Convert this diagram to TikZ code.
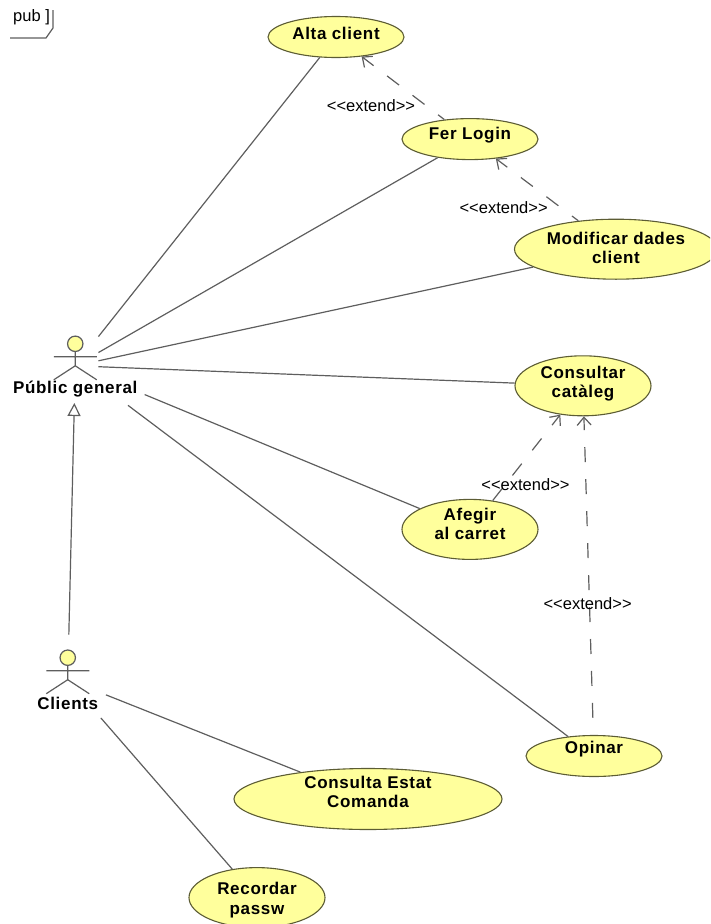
\documentclass[tikz,border=0pt]{standalone}
\usepackage{fontspec}
\setmainfont{Liberation Sans}
\newfontfamily\casefont[LetterSpace=4]{Liberation Sans Bold}
\usetikzlibrary{shapes.geometric,positioning,arrows.meta}

\definecolor{casefill}{HTML}{FFFF9C}
\definecolor{caseline}{HTML}{5C5C34}
\definecolor{umlline}{HTML}{5E5E5E}

\tikzset{
	usecase/.style={draw=caseline,
		fill=casefill,
		ellipse,
		line width=1.1pt,
		align=center,
		inner sep=0,
		font=\casefont\fontsize{17}{19.5}\selectfont,
		minimum width=136pt,
		minimum height=41pt},
	baseraise/.style={text height=-#1,text depth=#1},
	actorbox/.style={inner sep=0,
		minimum width=46pt,
		minimum height=60pt},
	actorlabel/.style={inner sep=0,
		minimum height=16pt,
		font=\casefont\fontsize{17}{19.5}\selectfont},
	assocline/.style={draw=umlline,line width=1.2pt},
	extendline/.style={assocline,
		-{Straight Barb[length=8pt,width=14pt]},
		dash pattern=on 15pt off 17pt},
	extendlabel/.style={font=\fontsize{16.5}{18}\selectfont,inner sep=0},
	stickman/.pic={
		\draw[assocline,fill=casefill] (0,-22) circle[radius=7.7pt];
		\draw[assocline] (0,-14) -- (0,0)
		(-21.5,-9) -- (21.5,-9)
		(-21.5,14) -- (0,0) -- (21.5,14);
	}
}

\begin{document}
\begin{tikzpicture}[x=1pt,y=-1pt]
		
		\clip (0,0) rectangle (710,924);
		
		% Use cases
		\node[usecase,
		baseraise=-4pt] (altaclient) at (336,37) {Alta client};
		
		\node[usecase,
		below=60pt of altaclient,
		xshift=134pt,
		baseraise=-0.5pt] (ferlogin) {Fer Login};
		
		\node[usecase,
		below=58.5pt of ferlogin,
		xshift=146pt,
		minimum width=203pt,
		minimum height=60pt,
		baseraise=-29pt] (modificardades) {Modificar dades\\client};
		
		\node[usecase,
		below=75.5pt of modificardades,
		xshift=-33pt,
		minimum height=60pt,
		baseraise=-23.5pt] (consultarcataleg) {Consultar\\catàleg};
		
		\node[usecase,
		below=82.5pt of consultarcataleg,
		xshift=-113pt,
		minimum height=60pt,
		baseraise=-21pt] (afegircarret) {Afegir\\al carret};
		
		\node[usecase,
		below=175pt of afegircarret,
		xshift=124pt,
		baseraise=4.5pt] (opinar) {Opinar};
		
		\node[usecase,
		below=208pt of afegircarret,
		xshift=-102pt,
		minimum width=268pt,
		minimum height=61pt,
		baseraise=-17.5pt] (consultaestat) {Consulta Estat\\Comanda};
		
		\node[usecase,
		below=37pt of consultaestat,
		xshift=-111pt,
		minimum height=60pt,
		baseraise=-33pt] (recordarpassw) {Recordar\\passw};
		
		% Actors
		\node[actorbox,
		left=416pt of consultarcataleg,
		yshift=20pt] (pubactor) {};
		
		\node[actorbox,
		below=245.5pt of pubactor,
		xshift=-7.5pt,
		minimum width=76pt,
		minimum height=76pt] (clientsactor) {};
		
		\pic at (pubactor.center) {stickman};
		\pic at (clientsactor.center) {stickman};
		
		\node[actorlabel,
		below=-15pt of pubactor] (publabel) {Públic general};
		
		\node[actorlabel,
		below=-23pt of clientsactor] (clientslabel) {Clients};
		
		% Associations
		\draw[assocline] (pubactor) -- (altaclient);
		\draw[assocline] (pubactor) -- (ferlogin);
		\draw[assocline] (pubactor) -- (modificardades);
		\draw[assocline] (pubactor) -- (consultarcataleg);
		\draw[assocline,shorten <=50pt] (pubactor) -- (afegircarret);
		\draw[assocline,shorten <=37pt] (pubactor) -- (opinar);
		\draw[assocline] (clientsactor) -- (consultaestat);
		\draw[assocline] (clientsactor) -- (recordarpassw);
		
		% Generalization
		\draw[assocline,
		-{Triangle[open,length=13pt,width=13pt]},
		shorten <=7pt,
		shorten >=7pt] (clientsactor) -- (pubactor);
		
		% Extends
		\draw[extendline,dash phase=7pt] (ferlogin) -- (altaclient)
		node[extendlabel,midway,xshift=-32pt,yshift=-18pt]{{<}{<}extend{>}{>}};
		
		\draw[extendline,dash phase=7pt] (modificardades) -- (ferlogin)
		node[extendlabel,midway,xshift=-33.5pt,yshift=-18pt]{{<}{<}extend{>}{>}};
		
		\draw[extendline] (afegircarret) -- (consultarcataleg)
		node[extendlabel,midway,xshift=-1pt,yshift=-27pt]{{<}{<}extend{>}{>}};
		
		\draw[extendline,dash phase=15pt] (opinar) -- (consultarcataleg)
		node[extendlabel,midway,xshift=-1pt,yshift=-28pt]{{<}{<}extend{>}{>}};
		
		% Tag
		\node[anchor=west,
		inner sep=0,
		font=\fontsize{16.5}{18}\selectfont] (pubtag) at (13,17) {pub ]};
		
		\draw[assocline] ([shift={(-3,21)}]pubtag.west) -- ++(36,0) -- ++(7,-10) -- ++(0,-18);
		
\end{tikzpicture}
\end{document}
